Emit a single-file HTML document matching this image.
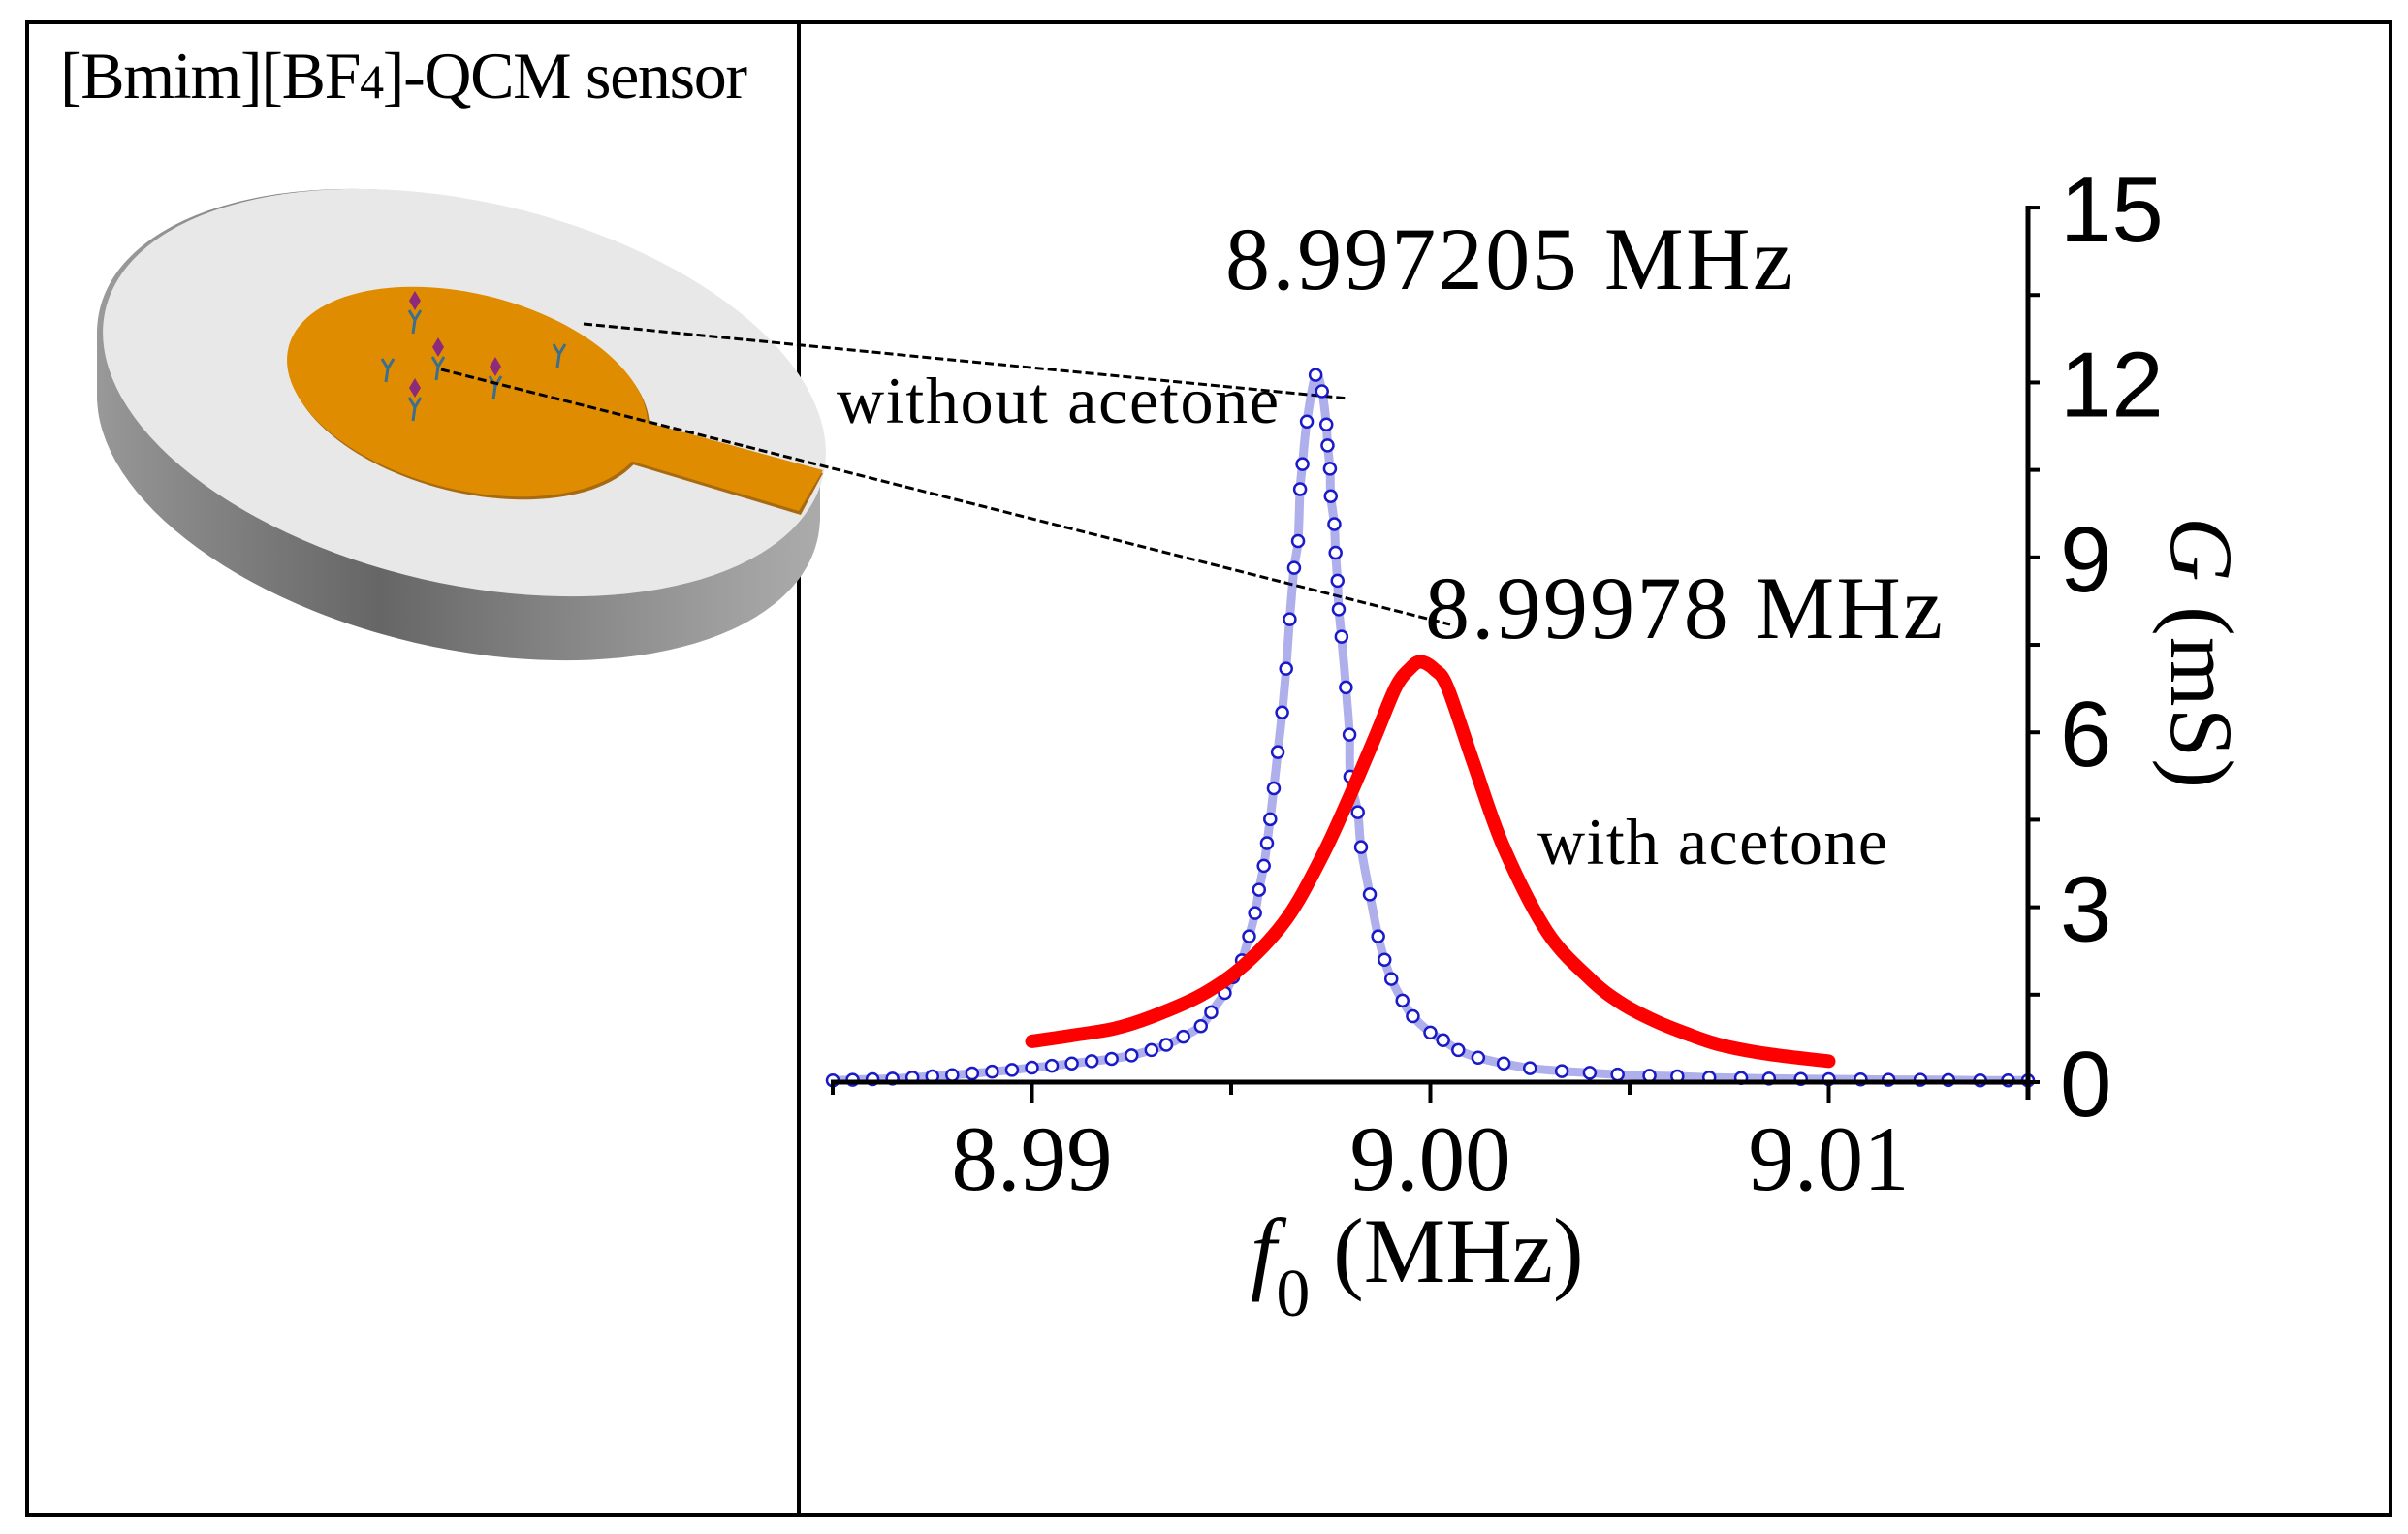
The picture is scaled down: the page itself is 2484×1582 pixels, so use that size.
<!DOCTYPE html>
<html><head><meta charset="utf-8"><style>
html,body{margin:0;padding:0;background:#fff}
svg{display:block}
.t{font-family:"Liberation Serif",serif;fill:#000}
.s{font-family:"Liberation Sans",sans-serif;fill:#000}
</style></head><body>
<svg id="fig" width="2484" height="1582" viewBox="0 0 2484 1582" xmlns="http://www.w3.org/2000/svg">
<defs>
<linearGradient id="sideg" x1="0" y1="0" x2="1" y2="0">
<stop offset="0" stop-color="#9a9a9a"/><stop offset="0.45" stop-color="#666"/><stop offset="1" stop-color="#aaa"/>
</linearGradient>
</defs>
<rect x="0" y="0" width="2484" height="1582" fill="#fff"/>
<g stroke="#000" stroke-width="4" fill="none">
<rect x="28" y="23" width="2438" height="1539"/>
<line x1="824" y1="23" x2="824" y2="1562"/>
</g>
<text class="t" x="62" y="101" font-size="68" textLength="709">[Bmim][BF<tspan font-size="50">4</tspan>]-QCM sensor</text>
<g id="disk"></g>
<g>
<ellipse cx="484" cy="407" rx="190" ry="101" transform="rotate(14 484 407)" fill="#a86a10"/>
<polygon points="640,432 849,488 826,531 646,477" fill="#a86a10"/>
<ellipse cx="482" cy="404" rx="190" ry="101" transform="rotate(14 482 404)" fill="#e08c00"/>
<polygon points="640,428 849,485 824,527 646,474" fill="#e08c00"/>
</g>
<g id="abs" stroke="#3a6f8f" stroke-width="3" fill="none"></g>
<g stroke="#000" stroke-width="3" stroke-dasharray="9,4" fill="none">
<line x1="602" y1="334" x2="1391" y2="411"/>
<line x1="455" y1="381" x2="1496" y2="644"/>
</g>
<g id="chart"></g>
<text class="t" x="1264" y="298" font-size="92" textLength="585">8.997205 MHz</text>
<text class="t" x="1470" y="658" font-size="92" textLength="534">8.99978 MHz</text>
<text class="t" x="863" y="436" font-size="68" textLength="456">without acetone</text>
<text class="t" x="1586" y="891" font-size="68" textLength="361">with acetone</text>
</svg>
<script>
// ---- chart data ----
const xTicks = [8.99, 9.00, 9.01];
const xTickLabels = ["8.99", "9.00", "9.01"];
const xMinor = [8.985, 8.995, 9.005, 9.015];
const yTicks = [0, 3, 6, 9, 12, 15];
const yTickLabels = ["0", "3", "6", "9", "12", "15"];
const yMinor = [1.5, 4.5, 7.5, 10.5, 13.5];
// without acetone (blue circles)
const blueX = [8.985,8.9855,8.986,8.9865,8.987,8.9875,8.988,8.9885,8.989,8.9895,8.990,8.9905,8.991,8.9915,8.992,8.9925,8.993,8.99337,8.9938,8.99424,8.9945,8.99484,8.99505,8.99527,8.99545,8.9956,8.9957,8.99582,8.9959,8.99598,8.99607,8.99617,8.99628,8.99638,8.99647,8.99658,8.99668,8.99673,8.99679,8.99690,8.99712,8.99728,8.99739,8.99742,8.99748,8.99750,8.99759,8.99762,8.99767,8.99770,8.99777,8.99788,8.99797,8.99799,8.99818,8.99826,8.99848,8.99869,8.99885,8.99902,8.9993,8.99956,9.0,9.00032,9.0007,9.0012,9.00184,9.0025,9.0033,9.0040,9.0047,9.0055,9.0062,9.007,9.0078,9.0085,9.0093,9.010,9.0108,9.0115,9.0123,9.013,9.0138,9.0145,9.015];
const blueY = [0.03,0.04,0.05,0.06,0.08,0.10,0.12,0.15,0.18,0.21,0.25,0.28,0.32,0.36,0.40,0.46,0.55,0.64,0.78,0.96,1.2,1.53,1.8,2.09,2.5,2.9,3.3,3.71,4.1,4.51,5.04,5.66,6.34,7.09,7.94,8.82,9.28,10.17,10.6,11.33,12.13,11.85,11.28,10.92,10.52,10.05,9.57,9.08,8.60,8.11,7.64,6.77,5.96,5.24,4.63,4.03,3.22,2.50,2.1,1.77,1.4,1.13,0.85,0.72,0.55,0.42,0.32,0.24,0.19,0.16,0.13,0.11,0.10,0.08,0.07,0.06,0.055,0.05,0.045,0.04,0.04,0.035,0.03,0.03,0.03];
// with acetone (red line)
const redX = [8.990,8.991,8.99207,8.993,8.99424,8.99533,8.99641,8.99728,8.99793,8.99859,8.99913,8.99950,8.99976,9.00010,9.00043,9.00108,9.00184,9.00293,9.00401,9.00480,9.00564,9.00640,9.00727,9.0085,9.010];
const redY = [0.70,0.80,0.92,1.12,1.49,2.01,2.82,3.87,4.83,5.88,6.77,7.10,7.21,7.08,6.77,5.48,4.03,2.58,1.77,1.35,1.05,0.84,0.64,0.48,0.36];

const NS = "http://www.w3.org/2000/svg";
function mk(tag, attrs, parent){const e=document.createElementNS(NS,tag);for(const k in attrs)e.setAttribute(k,attrs[k]);parent.appendChild(e);return e;}
const X0=8.985, X1=9.015, PX0=859, PX1=2092;
const Y0=1116, PYPER=60.13;
function xs(v){return PX0+(v-X0)/(X1-X0)*(PX1-PX0);}
function ys(v){return Y0-v*PYPER;}
function smoothPath(px,py){
  let d='M'+px[0].toFixed(1)+' '+py[0].toFixed(1);
  for(let i=0;i<px.length-1;i++){
    const p0x=px[Math.max(i-1,0)],p0y=py[Math.max(i-1,0)];
    const p3x=px[Math.min(i+2,px.length-1)],p3y=py[Math.min(i+2,px.length-1)];
    const c1x=px[i]+(px[i+1]-p0x)/6,c1y=py[i]+(py[i+1]-p0y)/6;
    const c2x=px[i+1]-(p3x-px[i])/6,c2y=py[i+1]-(p3y-py[i])/6;
    d+=' C'+c1x.toFixed(1)+' '+c1y.toFixed(1)+' '+c2x.toFixed(1)+' '+c2y.toFixed(1)+' '+px[i+1].toFixed(1)+' '+py[i+1].toFixed(1);
  }
  return d;
}

const chart=document.getElementById('chart');
// blue series
const bg=mk('g',{fill:'none',stroke:'#1a1ac8','stroke-width':2.5},chart);


const bl=mk('path',{d:smoothPath(blueX.map(xs),blueY.map(ys)),'stroke-width':9,stroke:'#1a1ac8',opacity:0.35},bg);


blueX.forEach((x,i)=>{
  const c=mk('circle',{cx:xs(x),cy:ys(blueY[i]),r:6,fill:'#fff'},bg);
  
  
});
// red series
const rl=mk('path',{d:smoothPath(redX.map(xs),redY.map(ys)),fill:'none',stroke:'#ff0000','stroke-width':14,'stroke-linecap':'round','stroke-linejoin':'round'},chart);


// x axis
const xa=mk('g',{stroke:'#000','stroke-width':5},chart);


mk('line',{x1:PX0-2,y1:Y0,x2:PX1,y2:Y0},xa);
xTicks.forEach((t,i)=>{
  mk('line',{x1:xs(t),y1:Y0,x2:xs(t),y2:Y0+22,'stroke-width':4},xa);
  const tx=mk('text',{x:xs(t),y:1227,'text-anchor':'middle','font-size':95,class:'t',stroke:'none'},chart);
  tx.textContent=xTickLabels[i];
  
  
});
xMinor.forEach(t=>{mk('line',{x1:xs(t),y1:Y0,x2:xs(t),y2:Y0+13,'stroke-width':4},xa);});
const xt=mk('text',{x:1290,y:1322,'font-size':95,class:'t'},chart);
xt.innerHTML='<tspan font-style="italic">f</tspan><tspan font-size="70" dy="35">0</tspan><tspan dy="-35"> (MHz)</tspan>';


// y axis
const ya=mk('g',{stroke:'#000','stroke-width':5},chart);


mk('line',{x1:PX1,y1:ys(15)-2,x2:PX1,y2:Y0+18},ya);
yTicks.forEach((t,i)=>{
  mk('line',{x1:PX1,y1:ys(t),x2:PX1+12,y2:ys(t),'stroke-width':4},ya);
  const tx=mk('text',{x:2125,y:ys(t)+35,'font-size':96,class:'s',stroke:'none'},chart);
  tx.textContent=yTickLabels[i];
  
  
});
yMinor.forEach(t=>{mk('line',{x1:PX1,y1:ys(t),x2:PX1+12,y2:ys(t),'stroke-width':4},ya);});
const yt=mk('text',{x:0,y:0,'font-size':92,class:'t','text-anchor':'middle',transform:'translate(2240,673) rotate(90)',textLength:280},chart);
yt.innerHTML='<tspan font-style="italic">G</tspan> (mS)';



// disk illustration (decorative)
const diskG=document.getElementById('disk');
for(let o=66;o>=0;o-=2){
  mk('ellipse',{cx:473,cy:405+o,rx:380,ry:197,transform:'rotate(13 473 '+(405+o)+')',fill:'url(#sideg)'},diskG);
}
const diskTop=mk('ellipse',{cx:479,cy:405,rx:380,ry:197,transform:'rotate(13 479 405)',fill:'#e8e8e8'},diskG);


// antibodies
const absG=document.getElementById('abs');
[[428,330,true],[452,378,true],[511,398,true],[428,420,true],[400,380,false],[577,365,false]].forEach(p=>{
  const ax=p[0], ay=p[1], d=p[2];
  mk('path',{d:`M${ax-6} ${ay-10} L${ax} ${ay} L${ax+6} ${ay-10} M${ax} ${ay} L${ax-2} ${ay+14}`},absG);
  if(d) mk('polygon',{points:`${ax} ${ay-30},${ax+6} ${ay-20},${ax} ${ay-10},${ax-6} ${ay-20}`,fill:'#8e2a7a',stroke:'none'},absG);
});
</script>
</body></html>
